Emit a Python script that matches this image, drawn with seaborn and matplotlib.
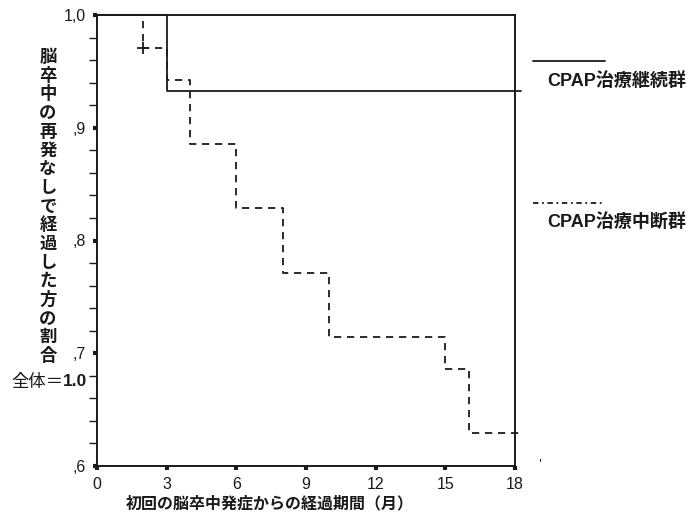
import matplotlib
matplotlib.use("Agg")
import matplotlib.pyplot as plt
import numpy as np
import pandas as pd
import seaborn as sns
from matplotlib.lines import Line2D
from matplotlib.ticker import FixedLocator, FuncFormatter

## Data
cont_months = [0, 3, 18.25]
cont_surv = [1.0, 0.933, 0.933]

stop_months = [0, 2, 3, 4, 6, 8, 10, 15, 16, 18.25]
stop_surv = [1.0, 0.971, 0.943, 0.886, 0.829, 0.771, 0.714, 0.686, 0.629, 0.629]

censor_months = [2]
censor_surv = [0.971]

x_ticks = [0, 3, 6, 9, 12, 15, 18]
y_ticks = [0.6, 0.7, 0.8, 0.9, 1.0]
y_tick_labels = [",6", ",7", ",8", ",9", "1,0"]

group_labels = ["CPAP治療継続群", "CPAP治療中断群"]
ylabel = "脳卒中の再発なしで経過した方の割合"
xlabel = "初回の脳卒中発症からの経過期間（月）"

sns.set_style("white")
plt.rcParams['font.family'] = ['Noto Sans CJK JP', 'DejaVu Sans']
ink = "#1a1a1a"
latin = ['Liberation Sans', 'DejaVu Sans']
mixed = ['Liberation Sans', 'Noto Sans CJK JP']

fig = plt.figure(figsize=(6.96, 5.2), dpi=100)
ax = fig.add_axes([0.1394, 0.1048, 0.6006, 0.8654])

df_cont = pd.DataFrame({"month": cont_months, "surv": cont_surv})
df_stop = pd.DataFrame({"month": stop_months, "surv": stop_surv})

sns.lineplot(data=df_cont, x="month", y="surv", ax=ax, estimator=None, sort=False,
             drawstyle="steps-post", color=ink, linewidth=1.3, clip_on=False)
sns.lineplot(data=df_stop, x="month", y="surv", ax=ax, estimator=None, sort=False,
             drawstyle="steps-post", color=ink, linewidth=1.3, linestyle=(0, (4, 3.2)),
             clip_on=False)
ax.plot(censor_months, censor_surv, marker="+", markersize=9, markeredgewidth=1.3,
        color=ink, linestyle="none", clip_on=False)

ax.set_xlim(0, 18)
ax.set_ylim(0.6, 1.0)
ax.set_xlabel("")
ax.set_ylabel("")
for s in ax.spines.values():
    s.set_visible(True)
    s.set_color(ink)
    s.set_linewidth(1.4)

ax.xaxis.set_major_locator(FixedLocator(x_ticks))
ax.yaxis.set_major_locator(FixedLocator(y_ticks))
ax.yaxis.set_major_formatter(FuncFormatter(lambda v, p: y_tick_labels[int(round((v - 0.6) * 10))]))
ax.yaxis.set_minor_locator(FixedLocator(np.arange(0.62, 1.0, 0.02)))
ax.tick_params(axis="both", which="major", direction="out", length=3, width=3,
               color=ink, labelcolor=ink, labelsize=11.5, pad=5)
ax.tick_params(axis="y", which="minor", direction="out", length=6, width=1, color=ink)
ax.tick_params(left=True, bottom=True, which="both")
for lab in ax.get_xticklabels() + ax.get_yticklabels():
    lab.set_family(latin)

# stacked vertical y label
fig.text(0.069, 0.603, "\n".join(ylabel), ha="center", va="center", fontsize=12.5,
         fontweight="bold", color=ink, linespacing=1.05)
fig.text(0.091, 0.266, "全体＝", ha="right", va="center", fontsize=12.5, color=ink)
fig.text(0.091, 0.266, "1.0", ha="left", va="center", fontsize=12.5, fontweight="bold",
         color=ink, family=latin)

fig.text(0.388, 0.032, xlabel, ha="center", va="center", fontsize=11.5,
         fontweight="bold", color=ink)

# legend on the right
fig.add_artist(Line2D([0.766, 0.869], [0.883, 0.883], color=ink, linewidth=1.3))
fig.text(0.786, 0.844, group_labels[0], ha="left", va="center", fontsize=13,
         fontweight="bold", color=ink, family=mixed)
fig.add_artist(Line2D([0.766, 0.866], [0.610, 0.610], color=ink, linewidth=1.3,
                      linestyle=(0, (3, 2, 1, 2))))
fig.text(0.786, 0.573, group_labels[1], ha="left", va="center", fontsize=13,
         fontweight="bold", color=ink, family=mixed)

fig.text(0.777, 0.108, "'", ha="center", va="center", fontsize=8, color=ink)

fig.savefig("out.png", dpi=100, facecolor="white")
